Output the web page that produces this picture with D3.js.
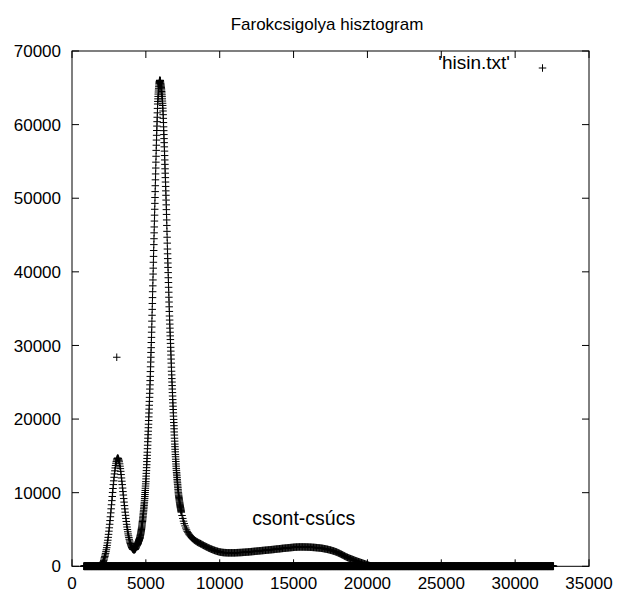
<!DOCTYPE html>
<html>
<head>
<meta charset="utf-8">
<script src="https://cdn.jsdelivr.net/npm/d3@7"></script>
<style>
  html, body { margin: 0; padding: 0; background: #fff; }
  svg text { font-family: "Liberation Sans", Arial, Helvetica, sans-serif; fill: #000; }
</style>
</head>
<body>
<svg id="chart" width="617" height="593"></svg>
<script>
// ---- data -------------------------------------------------------------
const chartTitle = "Farokcsigolya hisztogram";
const seriesName = "'hisin.txt'";
const peakLabel = "csont-csúcs";
const peakLabelAt = [12200, 6500];

const xTicks = [0, 5000, 10000, 15000, 20000, 25000, 30000, 35000];
const yTicks = [0, 10000, 20000, 30000, 40000, 50000, 60000, 70000];

// low (soft tissue) peak, bins every 25
const lowPeakStart = 1900, lowPeakStep = 25;
const lowPeakCounts = [
  60, 80, 100, 130, 170, 220, 290, 380, 500, 640,
  800, 980, 1170, 1340, 1540, 1750, 1990, 2250, 2530, 2840,
  3180, 3540, 3930, 4340, 4770, 5230, 5710, 6210, 6730, 7260,
  7810, 8360, 8920, 9480, 10030, 10570, 11100, 11610, 12090, 12550,
  12970, 13360, 13700, 14000, 14250, 14440, 14590, 14670, 14700, 14650,
  14550, 14400, 14200, 13920, 13600, 13270, 12900, 12460, 12000, 11560,
  11100, 10630, 10150, 9680, 9200, 8720, 8250, 7800, 7350, 6920,
  6500, 6090, 5700, 5340, 5000, 4690, 4400, 4140, 3900, 3670,
  3450, 3270, 3100, 2940, 2800, 2670, 2550, 2460, 2380, 2320,
  2280, 2260, 2250, 2260, 2280, 2330, 2400, 2490, 2600, 2720
];

// main peak, bins every 10
const mainPeakStart = 4400, mainPeakStep = 10;
const mainPeakCounts = [
  2850, 2890, 2930, 2970, 3010, 3050, 3100, 3160, 3220, 3285,
  3350, 3400, 3450, 3505, 3560, 3615, 3670, 3725, 3780, 3840,
  3900, 4000, 4100, 4200, 4300, 4410, 4520, 4635, 4750, 4875,
  5000, 5150, 5300, 5450, 5600, 5760, 5920, 6085, 6250, 6425,
  6600, 6800, 7000, 7200, 7400, 7610, 7820, 8035, 8250, 8475,
  8700, 8960, 9220, 9485, 9750, 10025, 10300, 10600, 10900, 11200,
  11500, 11875, 12250, 12625, 13000, 13400, 13800, 14225, 14650, 15075,
  15500, 15975, 16450, 16925, 17400, 17875, 18350, 18825, 19300, 19800,
  20300, 20825, 21350, 21875, 22400, 22950, 23500, 24075, 24650, 25225,
  25800, 26450, 27100, 27750, 28400, 29050, 29700, 30400, 31100, 31800,
  32500, 33300, 34100, 34900, 35700, 36500, 37300, 38100, 38900, 39700,
  40500, 41300, 42100, 42900, 43700, 44500, 45300, 46100, 46900, 47700,
  48500, 49300, 50100, 50900, 51700, 52500, 53300, 54100, 54900, 55700,
  56500, 57200, 57900, 58550, 59200, 59800, 60400, 61000, 61600, 62200,
  62800, 63150, 63500, 63830, 64150, 64430, 64700, 64930, 65150, 65380,
  65600, 65730, 65850, 65930, 66000, 66020, 66000, 65960, 65900, 65760,
  65600, 65480, 65350, 65200, 65050, 64880, 64700, 64500, 64300, 64050,
  63800, 63500, 63200, 62900, 62600, 62230, 61850, 61350, 60850, 60280,
  59700, 59180, 58650, 58100, 57550, 56980, 56400, 55800, 55200, 54600,
  54000, 53400, 52800, 52200, 51600, 51000, 50400, 49750, 49100, 48450,
  47800, 47050, 46300, 45500, 44700, 43900, 43100, 42450, 41800, 41200,
  40600, 39900, 39200, 38550, 37900, 37230, 36550, 35900, 35250, 34620,
  34000, 33450, 32900, 32350, 31800, 31300, 30800, 30280, 29750, 29230,
  28700, 28150, 27600, 27050, 26500, 26000, 25500, 25030, 24550, 24080,
  23600, 23130, 22650, 22200, 21750, 21300, 20850, 20400, 19950, 19530,
  19100, 18680, 18250, 17830, 17400, 17000, 16600, 16250, 15900, 15550,
  15200, 14880, 14550, 14230, 13900, 13600, 13300, 13030, 12750, 12530,
  12300, 12050, 11800, 11580, 11350, 11130, 10900, 10680, 10450, 10230,
  10000, 9830, 9650, 9500, 9350, 9200, 9050, 8900, 8750, 8630,
  8500, 8380, 8250, 8130, 8000, 7900, 7800, 7690, 7570, 7460
];

// slow tail and the bone bump, bins every 50
const tailStart = 7400, tailStep = 50;
const tailCounts = [
  7350, 6900, 6500, 6130, 5800, 5490, 5200, 4960, 4750, 4570,
  4400, 4270, 4150, 4020, 3900, 3800, 3700, 3620, 3550, 3470,
  3400, 3340, 3280, 3220, 3170, 3120, 3070, 3010, 2960, 2900,
  2850, 2790, 2740, 2690, 2640, 2590, 2540, 2490, 2450, 2400,
  2360, 2320, 2280, 2240, 2200, 2160, 2130, 2090, 2060, 2030,
  2000, 1970, 1950, 1930, 1910, 1890, 1880, 1870, 1860, 1850,
  1850, 1840, 1840, 1830, 1830, 1830, 1830, 1830, 1830, 1830,
  1830, 1830, 1830, 1835, 1840, 1845, 1850, 1855, 1860, 1865,
  1870, 1875, 1880, 1890, 1900, 1905, 1910, 1920, 1930, 1935,
  1940, 1950, 1960, 1970, 1980, 1990, 2000, 2010, 2020, 2030,
  2040, 2050, 2060, 2070, 2080, 2090, 2100, 2110, 2120, 2130,
  2140, 2150, 2160, 2170, 2180, 2190, 2200, 2210, 2220, 2230,
  2240, 2250, 2260, 2270, 2280, 2290, 2300, 2315, 2330, 2340,
  2350, 2360, 2370, 2380, 2390, 2405, 2420, 2430, 2440, 2450,
  2460, 2470, 2480, 2490, 2500, 2510, 2520, 2530, 2540, 2550,
  2560, 2570, 2580, 2590, 2600, 2605, 2610, 2615, 2620, 2625,
  2630, 2630, 2630, 2630, 2630, 2630, 2630, 2625, 2620, 2620,
  2620, 2615, 2610, 2605, 2600, 2595, 2590, 2580, 2570, 2565,
  2560, 2550, 2540, 2530, 2520, 2510, 2500, 2490, 2480, 2465,
  2450, 2435, 2420, 2400, 2380, 2360, 2340, 2320, 2300, 2275,
  2250, 2225, 2200, 2170, 2140, 2110, 2080, 2045, 2010, 1975,
  1940, 1895, 1850, 1805, 1760, 1710, 1660, 1610, 1560, 1505,
  1450, 1400, 1350, 1300, 1250, 1205, 1160, 1115, 1070, 1035,
  1000, 960, 920, 880, 840, 800, 760, 725, 690, 655,
  620, 585, 550, 515, 480, 445, 410, 375, 340, 305,
  270, 235, 200, 160, 120, 85, 50
];

// empty bins (count 0) span the whole value range
const emptyBinRange = [800, 32600], emptyBinStep = 10;

// a single stray bin
const strayBins = [[3030, 28400]];

// ---- layout -----------------------------------------------------------
const svg = d3.select("#chart");
const plot = { left: 72, right: 589, top: 51, bottom: 566.3 };
const x = d3.scaleLinear().domain([0, 35000]).range([plot.left, plot.right]);
const y = d3.scaleLinear().domain([0, 70000]).range([plot.bottom, plot.top]);
const tickLen = 7;
const markHalf = 3.75;

// ---- assemble points --------------------------------------------------
const fromSegment = (start, step, counts) => counts.map((c, i) => [start + i * step, c]);
const emptyBins = d3.range(emptyBinRange[0], emptyBinRange[1] + 1, emptyBinStep).map(v => [v, 0]);
const points = [].concat(
  emptyBins,
  fromSegment(lowPeakStart, lowPeakStep, lowPeakCounts),
  fromSegment(mainPeakStart, mainPeakStep, mainPeakCounts),
  fromSegment(tailStart, tailStep, tailCounts),
  strayBins
);

// ---- frame and ticks --------------------------------------------------
svg.append("rect")
  .attr("x", plot.left).attr("y", plot.top)
  .attr("width", plot.right - plot.left).attr("height", plot.bottom - plot.top)
  .attr("fill", "none").attr("stroke", "#000").attr("stroke-width", 1);

const tickG = svg.append("g").attr("stroke", "#000").attr("stroke-width", 1);
xTicks.forEach(t => {
  tickG.append("line").attr("x1", x(t)).attr("x2", x(t)).attr("y1", plot.bottom).attr("y2", plot.bottom - tickLen);
  tickG.append("line").attr("x1", x(t)).attr("x2", x(t)).attr("y1", plot.top).attr("y2", plot.top + tickLen);
});
yTicks.forEach(t => {
  tickG.append("line").attr("x1", plot.left).attr("x2", plot.left + tickLen).attr("y1", y(t)).attr("y2", y(t));
  tickG.append("line").attr("x1", plot.right).attr("x2", plot.right - tickLen).attr("y1", y(t)).attr("y2", y(t));
});

svg.append("g").selectAll("text").data(xTicks).join("text")
  .attr("x", d => x(d)).attr("y", 589)
  .attr("text-anchor", "middle").attr("font-size", 17)
  .text(d => d);

svg.append("g").selectAll("text").data(yTicks).join("text")
  .attr("x", 61).attr("y", d => y(d)).attr("dy", "0.36em")
  .attr("text-anchor", "end").attr("font-size", 17)
  .text(d => d);

// ---- title ------------------------------------------------------------
svg.append("text")
  .attr("x", 327).attr("y", 30)
  .attr("text-anchor", "middle").attr("font-size", 17)
  .text(chartTitle);

// ---- data points (gnuplot-style plus marks, one path) -----------------
const plusAt = (px, py) =>
  `M${px - markHalf},${py}h${2 * markHalf}M${px},${py - markHalf}v${2 * markHalf}`;
svg.append("path")
  .attr("d", points.map(d => plusAt(x(d[0]), y(d[1]))).join(""))
  .attr("stroke", "#000").attr("stroke-width", 1).attr("fill", "none");

// ---- annotation -------------------------------------------------------
svg.append("text")
  .attr("x", x(peakLabelAt[0])).attr("y", y(peakLabelAt[1])).attr("dy", "0.35em")
  .attr("font-size", 19.5)
  .text(peakLabel);

// ---- legend -----------------------------------------------------------
svg.append("text")
  .attr("x", 510).attr("y", 69)
  .attr("text-anchor", "end").attr("font-size", 19)
  .text(seriesName);
svg.append("path")
  .attr("d", plusAt(542.5, 68))
  .attr("stroke", "#000").attr("stroke-width", 1).attr("fill", "none");
</script>
</body>
</html>
